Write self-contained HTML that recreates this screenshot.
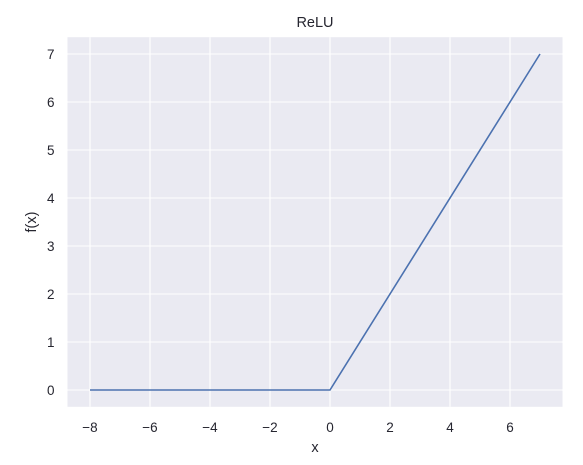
<!DOCTYPE html>
<html><head><meta charset="utf-8"><style>
body{margin:0;background:#fff;}
svg text{font-family:"Liberation Sans","DejaVu Sans",sans-serif;fill:#262630;}
</style></head><body>
<svg id="chart" width="583" height="460"></svg>
<script>
const xValues = [-8, 0, 7];
const yValues = [0, 0, 7];
const xTicks = [-8, -6, -4, -2, 0, 2, 4, 6];
const yTicks = [0, 1, 2, 3, 4, 5, 6, 7];
const xTickLabels = ["\u22128", "\u22126", "\u22124", "\u22122", "0", "2", "4", "6"];
const yTickLabels = ["0", "1", "2", "3", "4", "5", "6", "7"];

const L = 67.5, R = 562.5, T = 37.2, B = 406.8;
const xMin = -8.75, xMax = 7.75, yMin = -0.35, yMax = 7.35;
const sx = v => L + (v - xMin) / (xMax - xMin) * (R - L);
const sy = v => B - (v - yMin) / (yMax - yMin) * (B - T);
const NS = "http://www.w3.org/2000/svg";
const svg = document.getElementById('chart');
function mk(tag, attrs, parent) {
  const e = document.createElementNS(NS, tag);
  for (const k in attrs) e.setAttribute(k, attrs[k]);
  (parent || svg).appendChild(e);
  return e;
}
const bg = mk('rect', {x: L, y: T, width: R - L, height: B - T, fill: '#eaeaf2'});



xTicks.forEach((t, i) => {
  const g = mk('line', {x1: sx(t), x2: sx(t), y1: T, y2: B, stroke: '#fff', 'stroke-width': 1.1});
  
  
  const tx = mk('text', {x: sx(t), y: B + 25, 'text-anchor': 'middle', 'font-size': 13.5});
  tx.textContent = xTickLabels[i];
  
  
});
yTicks.forEach((t, i) => {
  const g = mk('line', {x1: L, x2: R, y1: sy(t), y2: sy(t), stroke: '#fff', 'stroke-width': 1.1});
  
  
  const tx = mk('text', {x: L - 13, y: sy(t) + 5, 'text-anchor': 'end', 'font-size': 13.5});
  tx.textContent = yTickLabels[i];
  
  
});

const pts = xValues.map((x, i) => sx(x) + ',' + sy(yValues[i])).join(' ');
const line = mk('polyline', {points: pts, fill: 'none', stroke: '#4c72b0', 'stroke-width': 1.6});



const title = mk('text', {x: (L + R) / 2, y: 27, 'text-anchor': 'middle', 'font-size': 14.5});
title.textContent = 'ReLU';


const xl = mk('text', {x: (L + R) / 2, y: 452, 'text-anchor': 'middle', 'font-size': 14.5});
xl.textContent = 'x';


const yl = mk('text', {x: 0, y: 0, 'text-anchor': 'middle', 'font-size': 14.5, transform: 'translate(36,' + ((T + B) / 2) + ') rotate(-90)'});
yl.textContent = 'f(x)';


</script>
</body></html>
